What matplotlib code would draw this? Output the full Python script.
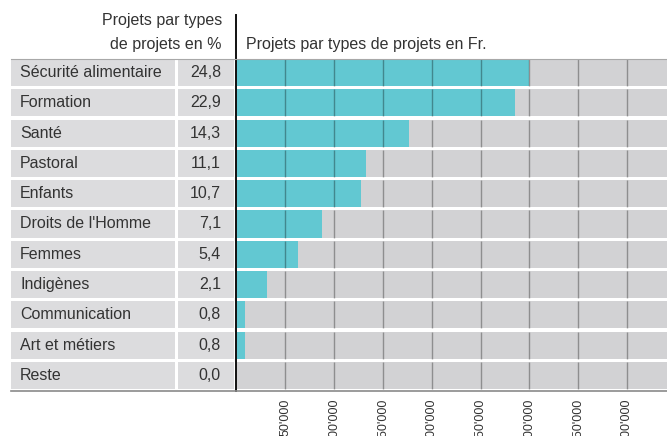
import matplotlib
matplotlib.use("Agg")
import matplotlib.pyplot as plt
from matplotlib.lines import Line2D

plt.rcParams['font.family'] = ['Liberation Sans', 'DejaVu Sans']

# Données
types_projets = ["Sécurité alimentaire", "Formation", "Santé", "Pastoral", "Enfants",
                 "Droits de l'Homme", "Femmes", "Indigènes", "Communication",
                 "Art et métiers", "Reste"]
pourcentages = ["24,8", "22,9", "14,3", "11,1", "10,7", "7,1", "5,4", "2,1", "0,8", "0,8", "0,0"]
montants_fr = [300000, 285700, 176700, 132700, 127200, 87900, 63300, 30900, 9000, 9000, 0]
graduations = [50000, 100000, 150000, 200000, 250000, 300000, 350000, 400000]
etiquettes = ["50'000", "100'000", "150'000", "200'000", "250'000", "300'000", "350'000", "400'000"]

W, H = 667, 436
fig = plt.figure(figsize=(W / 100, H / 100), dpi=100)

teal = "#62c8d2"
gris_fond = "#d2d2d4"
gris_cell = "#dcdcde"
texte = "#333333"
taille = 11.5

haut_px, bas_px = 57.4, 390.6
y0 = 1 - bas_px / H
hauteur = (bas_px - haut_px) / H
n = len(types_projets)
rows = list(range(n))
h_bar = 27.2 / 30.3

# Colonnes de gauche (libellés et pourcentages)
axl = fig.add_axes([11 / W, y0, (236 - 11) / W, hauteur])
axl.set_xlim(0, 1)
axl.set_ylim(n - 0.5, -0.5)
axl.axis("off")
axl.barh(rows, [0.729] * n, left=0, height=h_bar, color=gris_cell)
axl.barh(rows, [0.249] * n, left=0.742, height=h_bar, color=gris_cell)
for i, (nom, pct) in enumerate(zip(types_projets, pourcentages)):
    axl.text(0.04, i, nom, va="center", ha="left", fontsize=taille, color=texte)
    axl.text(0.933, i, pct, va="center", ha="right", fontsize=taille, color=texte)

# Barres en francs
ax = fig.add_axes([236.5 / W, y0, (W - 236.5) / W, hauteur])
xmax = (W - 236.5) / 48.8 * 50000
ax.set_xlim(0, xmax)
ax.set_ylim(n - 0.5, -0.5)
ax.barh(rows, [xmax] * n, height=h_bar, color=gris_fond, zorder=1)
ax.barh(rows, montants_fr, height=h_bar, color=teal, zorder=2)
for i in rows:
    ax.vlines(graduations, i - h_bar / 2, i + h_bar / 2, color="black", alpha=0.32,
              lw=1.0, zorder=3)
for s in ax.spines.values():
    s.set_visible(False)
ax.set_yticks([])
ax.set_xticks(graduations)
ax.set_xticklabels(etiquettes, rotation=90, va="top", ha="center", fontsize=9, color=texte)
ax.tick_params(axis="x", length=0, pad=6)
ax.axvline(0, ymin=0, ymax=(bas_px - 15) / (bas_px - haut_px), color="#111111", lw=1.4,
           clip_on=False, zorder=5)

# Lignes horizontales du tableau
fig.add_artist(Line2D([11 / W, 1], [1 - 390.8 / H] * 2, color="#8a8a8a", lw=1.2))
fig.add_artist(Line2D([11 / W, 1], [1 - 59.2 / H] * 2, color="#a8a8a8", lw=0.8))

# En-têtes
fig.text(222 / W, 1 - 21 / H, "Projets par types", ha="right", va="center",
         fontsize=taille, color=texte)
fig.text(222 / W, 1 - 45 / H, "de projets en %", ha="right", va="center",
         fontsize=taille, color=texte)
fig.text(246 / W, 1 - 45 / H, "Projets par types de projets en Fr.", ha="left", va="center",
         fontsize=taille, color=texte)

fig.savefig("out.png", dpi=100)
